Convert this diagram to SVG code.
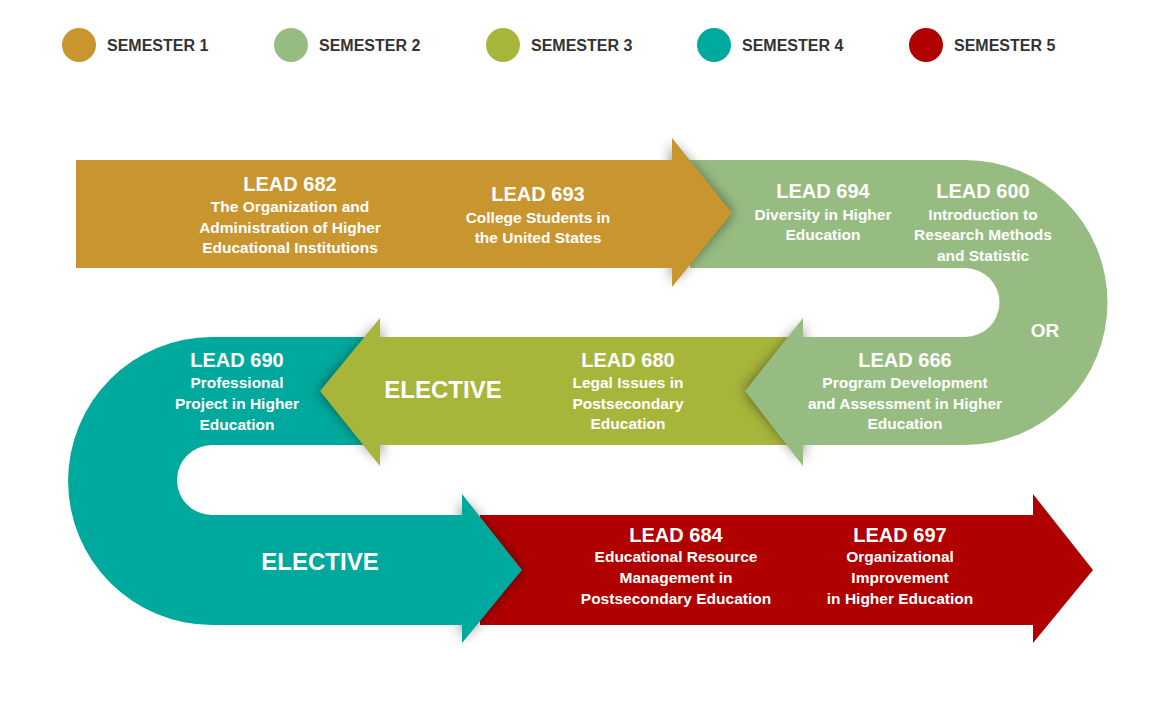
<svg xmlns="http://www.w3.org/2000/svg" width="1173" height="715" viewBox="0 0 1173 715">
<style>
.t{font-family:"Liberation Sans",Arial,sans-serif;font-weight:bold;fill:#fff;text-anchor:middle}
.h{font-size:20px}.b{font-size:15.5px}.e{font-size:24px}
.lg{font-family:"Liberation Sans",Arial,sans-serif;font-weight:bold;font-size:16px;fill:#333}
.sh{fill:#000;opacity:0.55;filter:url(#blur)}
</style>
<defs><filter id="blur" x="-50%" y="-50%" width="200%" height="200%"><feGaussianBlur stdDeviation="7"/></filter></defs>
<g id="legend">
<circle cx="79" cy="45" r="17" fill="#C9952F"/><text class="lg" x="107" y="51">SEMESTER 1</text>
<circle cx="291" cy="45" r="17" fill="#97BC82"/><text class="lg" x="319" y="51">SEMESTER 2</text>
<circle cx="503" cy="45" r="17" fill="#A8B53B"/><text class="lg" x="531" y="51">SEMESTER 3</text>
<circle cx="714" cy="45" r="17" fill="#00A99D"/><text class="lg" x="742" y="51">SEMESTER 4</text>
<circle cx="926" cy="45" r="17" fill="#B00000"/><text class="lg" x="954" y="51">SEMESTER 5</text>
</g>
<g id="connectors">
<path id="red" d="M480,515 H1033 V494 L1093,570 L1033,643 V625 H480Z" fill="#B00000"/>
<polygon class="sh" points="462,500 522,570 462,638"/>
<path id="teal" d="M400,337 H212 A144,144 0 0 0 212,625 H462 V643 L522,570 L462,494 V515 H212 A35,35 0 0 1 212,445 H400Z" fill="#00A99D"/>
<polygon class="sh" points="380,324 320,391 380,460"/>
<path id="olive" d="M810,337 V445 H380 V466 L320,391 L380,318 V337 Z" fill="#A8B53B"/>
<polygon class="sh" points="803,324 745,391 803,460"/>
<path id="green" d="M690,160 H965 A142.5,142.5 0 0 1 965,445 H803 V466 L745,391 L803,318 V337 H965 A34.5,34.5 0 0 0 965,268 H690Z" fill="#97BC82"/>
<polygon class="sh" points="672,144 732,213 672,281"/>
<path id="gold" d="M76,160 H672 V138 L732,213 L672,287 V268 H76Z" fill="#C9952F"/>
</g>
<g id="n682"><text class="t h" x="290" y="191">LEAD 682</text><text class="t b" x="290" y="212">The Organization and</text><text class="t b" x="290" y="233">Administration of Higher</text><text class="t b" x="290" y="253">Educational Institutions</text></g>
<g id="n693"><text class="t h" x="538" y="201">LEAD 693</text><text class="t b" x="538" y="223">College Students in</text><text class="t b" x="538" y="243">the United States</text></g>
<g id="n694"><text class="t h" x="823" y="198">LEAD 694</text><text class="t b" x="823" y="220">Diversity in Higher</text><text class="t b" x="823" y="240">Education</text></g>
<g id="n600"><text class="t h" x="983" y="198">LEAD 600</text><text class="t b" x="983" y="220">Introduction to</text><text class="t b" x="983" y="240">Research Methods</text><text class="t b" x="983" y="261">and Statistic</text></g>
<g id="or"><text class="t" style="font-size:19px" x="1045" y="337">OR</text></g>
<g id="n666"><text class="t h" x="905" y="367">LEAD 666</text><text class="t b" x="905" y="388">Program Development</text><text class="t b" x="905" y="409">and Assessment in Higher</text><text class="t b" x="905" y="429">Education</text></g>
<g id="n680"><text class="t h" x="628" y="367">LEAD 680</text><text class="t b" x="628" y="388">Legal Issues in</text><text class="t b" x="628" y="409">Postsecondary</text><text class="t b" x="628" y="429">Education</text></g>
<g id="elective1"><text class="t e" x="443" y="398">ELECTIVE</text></g>
<g id="n690"><text class="t h" x="237" y="367">LEAD 690</text><text class="t b" x="237" y="388">Professional</text><text class="t b" x="237" y="409">Project in Higher</text><text class="t b" x="237" y="430">Education</text></g>
<g id="elective2"><text class="t e" x="320" y="570">ELECTIVE</text></g>
<g id="n684"><text class="t h" x="676" y="542">LEAD 684</text><text class="t b" x="676" y="562">Educational Resource</text><text class="t b" x="676" y="583">Management in</text><text class="t b" x="676" y="604">Postsecondary Education</text></g>
<g id="n697"><text class="t h" x="900" y="542">LEAD 697</text><text class="t b" x="900" y="562">Organizational</text><text class="t b" x="900" y="583">Improvement</text><text class="t b" x="900" y="604">in Higher Education</text></g>
</svg>
